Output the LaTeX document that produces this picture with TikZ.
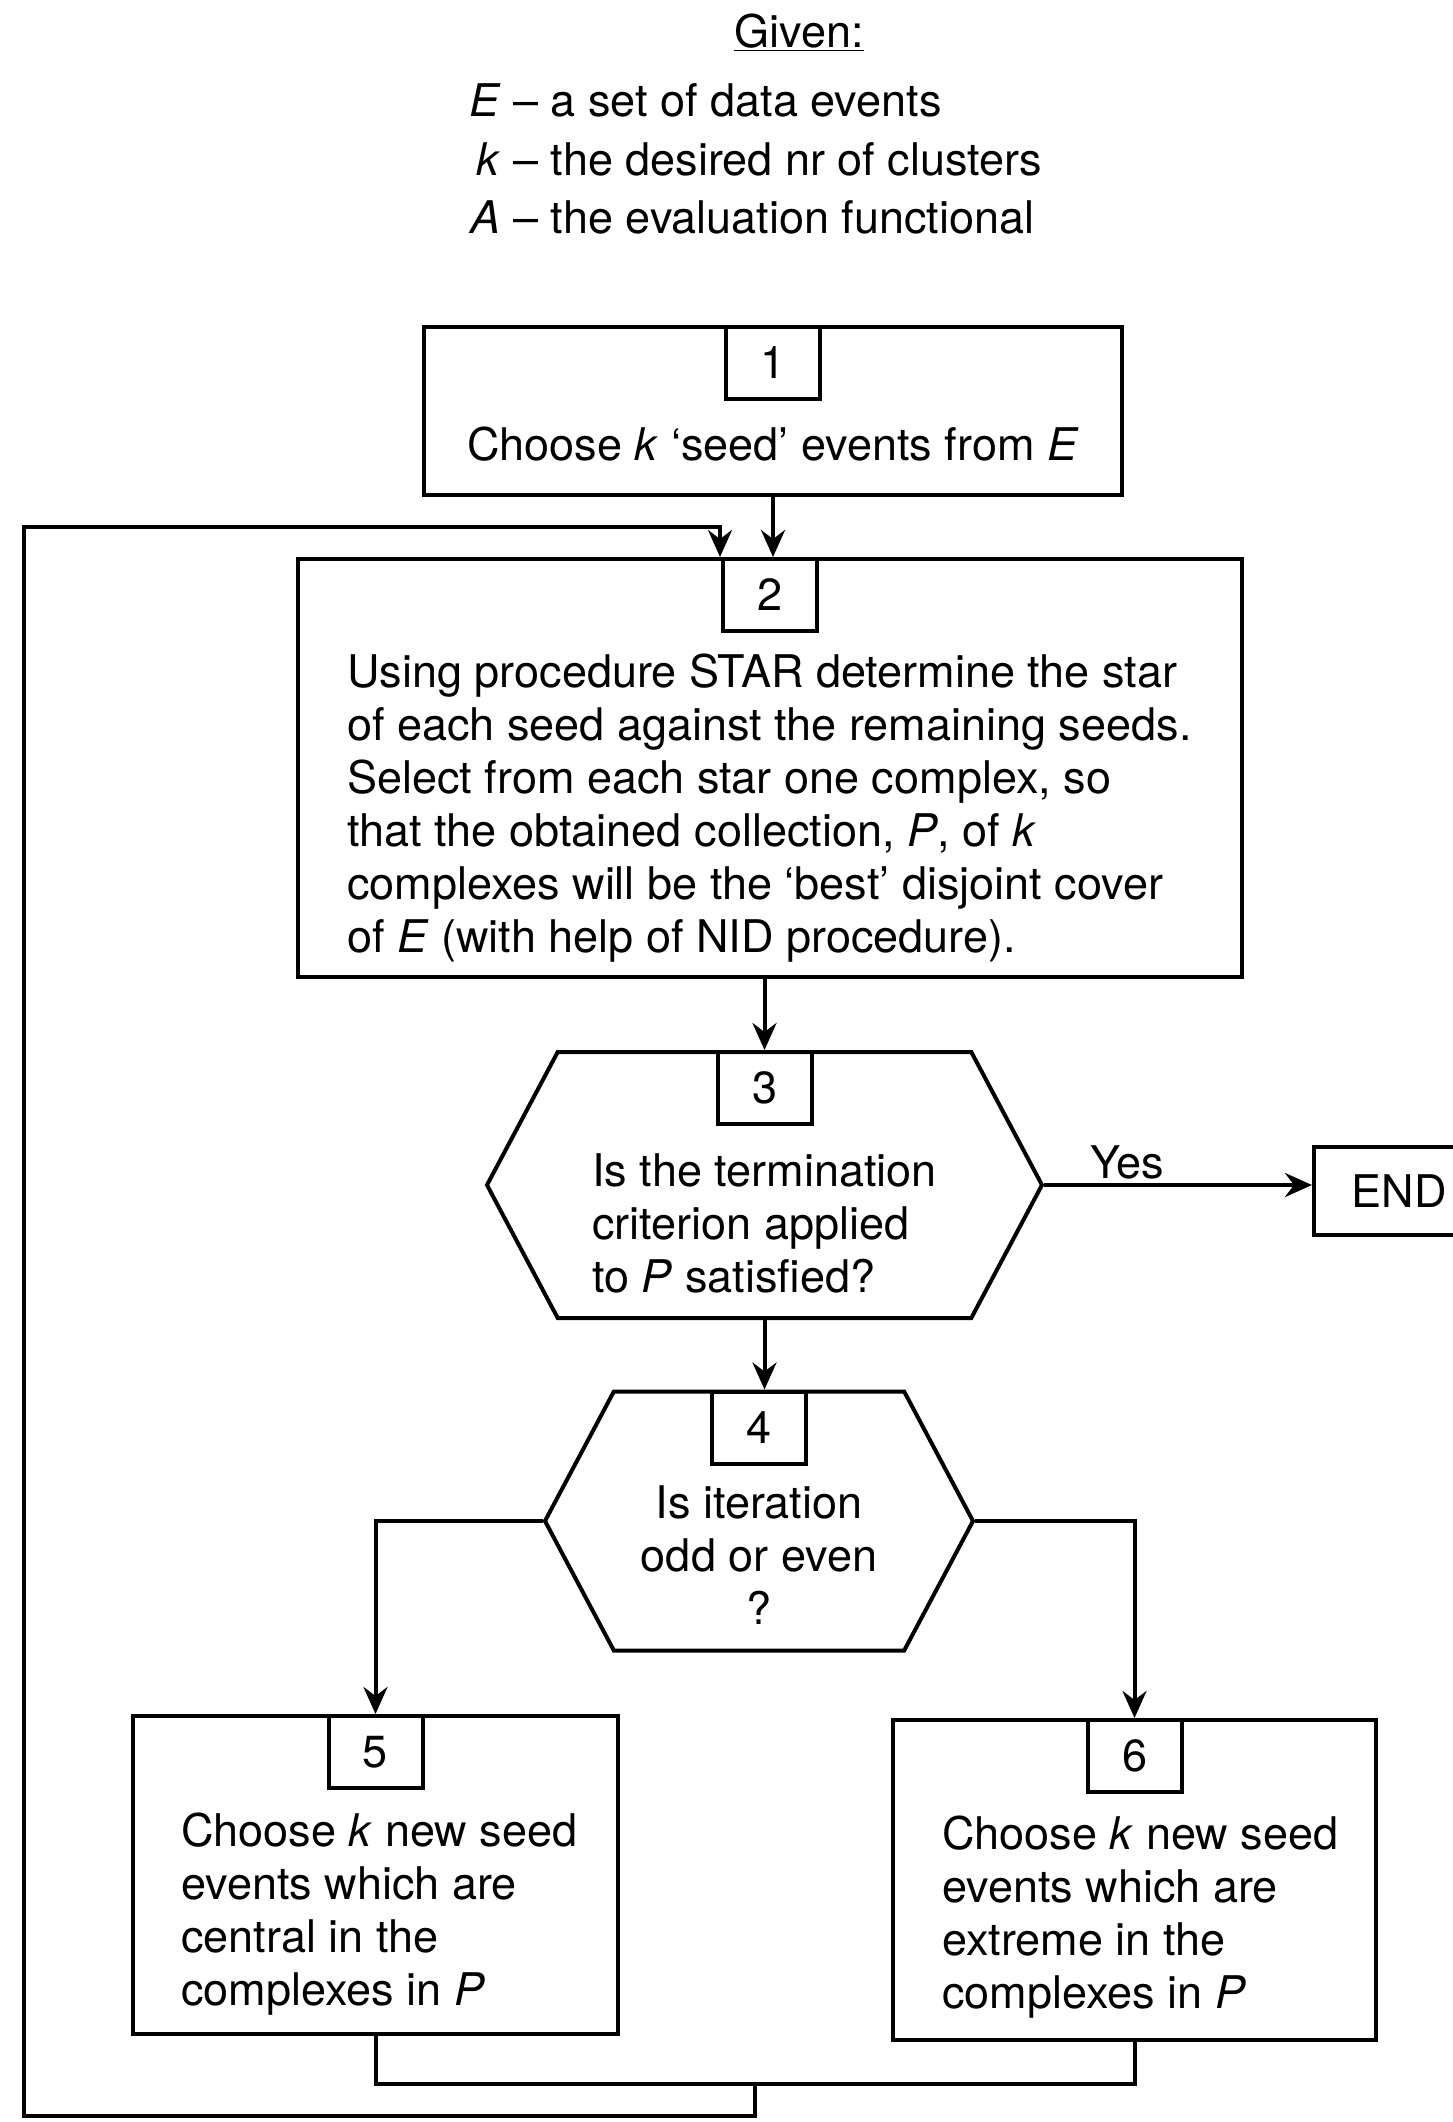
\documentclass[tikz,border=0pt]{standalone}
\usepackage{fontspec}
\setmainfont{TeX Gyre Heros}
\usetikzlibrary{shapes.symbols, arrows.meta}

\tikzset{
  stepbox/.style={draw, line width=4pt, rectangle, inner sep=0pt},
  numbox/.style={draw, line width=4pt, rectangle, anchor=north,
    minimum width=94pt, minimum height=72pt, inner sep=0pt},
  testbox/.style={draw, line width=4pt, signal, signal to=east and west,
    signal pointer angle=124, inner sep=0pt},
  steptext/.style={inner sep=0pt, align=left},
  flow/.style={line width=4pt, -{Stealth[length=27pt,width=24pt,inset=9pt]}},
  link/.style={line width=4pt},
}

\begin{document}
\begin{tikzpicture}[x=1pt, y=1pt, font=\fontsize{45}{53}\selectfont]
  \useasboundingbox (0,0) rectangle (1452,-2122);

  % given data
  \node[anchor=base] (given) at (799,-48) {\underline{Given:}};
  \node[anchor=base west, inner sep=0pt] (data) at (469,-117)
    {\renewcommand{\arraystretch}{1.1}%
     \begin{tabular}[t]{@{}r@{\ --\ }l@{}}
       \textit{E} & a set of data events\\
       \textit{k} & the desired nr of clusters\\
       \textit{A} & the evaluation functional
     \end{tabular}};

  % steps
  \node[stepbox, minimum width=698pt, minimum height=168pt] (b1) at (773,-411) {};
  \node[stepbox, minimum width=944pt, minimum height=418pt] (b2) at (770,-768) {};
  \node[testbox, minimum width=555pt, minimum height=266pt] (h3) at (764.5,-1185) {};
  \node[testbox, minimum width=428pt, minimum height=259pt] (h4) at (759,-1521) {};
  \node[stepbox, minimum width=485pt, minimum height=318pt] (b5) at (375.5,-1875) {};
  \node[stepbox, minimum width=483pt, minimum height=320pt] (b6) at (1134.5,-1880) {};
  \node[stepbox, minimum width=170pt, minimum height=88pt] (end) at (1399,-1191) {END};

  % step numbers
  \node[numbox] (n1) at (b1.north) {1};
  \node[numbox] (n2) at (b2.north) {2};
  \node[numbox] (n3) at (h3.north) {3};
  \node[numbox] (n4) at (h4.north) {4};
  \node[numbox] (n5) at (b5.north) {5};
  \node[numbox] (n6) at (b6.north) {6};

  % step texts
  \node[steptext] (t1) at ([yshift=-33pt]b1.center)
    {Choose \textit{k} `seed' events from \textit{E}};
  \node[steptext, anchor=west] (t2) at ([xshift=51pt,yshift=-40pt]b2.west)
    {Using procedure STAR determine the star\\
     of each seed against the remaining seeds.\\
     Select from each star one complex, so\\
     that the obtained collection, \textit{P}, of \textit{k}\\
     complexes will be the `best' disjoint cover\\
     of \textit{E} (with help of NID procedure).};
  \node[steptext] (t3) at ([yshift=-38pt]h3.center)
    {Is the termination\\criterion applied\\to \textit{P} satisfied?};
  \node[steptext, align=center] (t4) at ([yshift=-34pt]h4.center)
    {Is iteration\\odd or even\\?};
  \node[steptext, anchor=west] (t5) at ([xshift=50pt,yshift=-39pt]b5.west)
    {Choose \textit{k} new seed\\events which are\\central in the\\complexes in \textit{P}};
  \node[steptext, anchor=west] (t6) at ([xshift=51pt,yshift=-37pt]b6.west)
    {Choose \textit{k} new seed\\events which are\\extreme in the\\complexes in \textit{P}};

  % connectors
  \coordinate (j) at (755,-2084);
  \coordinate (lb) at (24,-2116);
  \coordinate (lt) at (720,-527);
  \draw[flow] (b1.south) -- (b1.south |- b2.north);
  \draw[flow] (h3.north |- b2.south) -- (h3.north);
  \draw[flow] (h3.east) -- node[above, pos=0.31, inner sep=4pt] {Yes} (h3.east -| end.west);
  \draw[flow] (h3.south) -- (h3.south |- h4.north);
  \draw[flow] (h4.west) -| (b5.north);
  \draw[flow] (h4.east) -| (b6.north);
  \draw[link] (b5.south) |- (j) -| (b6.south);
  \draw[flow] (j) |- (lb) |- (lt) -- (lt |- b2.north);
\end{tikzpicture}
\end{document}
